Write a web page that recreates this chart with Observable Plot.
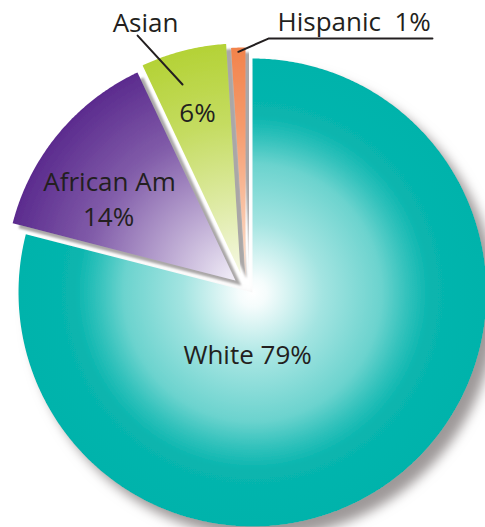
<!DOCTYPE html>
<html>
<head>
<meta charset="utf-8">
<script src="https://cdn.jsdelivr.net/npm/d3@7"></script>
<script src="https://cdn.jsdelivr.net/npm/@observablehq/plot@0.6"></script>
<style>
  html, body { margin: 0; padding: 0; background: #fff; }
  svg text { font-family: "Open Sans", sans-serif; }
</style>
</head>
<body>
<div id="chart"></div>
<script>
// ---- data ----
const categories = ["White", "African Am", "Asian", "Hispanic"];
const values = [79, 14, 6, 1];
const sliceLabels = ["White 79%", "African Am", "14%", "6%", "Asian", "Hispanic\u00a0 1%"];
const outerColors = ["#00b3ab", "#5b2b8e", "#b4d236", "#f2834b"];
const innerColors = ["#ffffff", "#f2eff8", "#f6f8e4", "#fde4d4"];

// ---- layout ----
const W = 485, H = 527;
const R = 234;            // pie radius in px
const CX = 252, CY = 292; // pie centre in px
// explode vectors (in radius units, y up) and relative radius per slice
const explode = [[0, 0], [-0.073, 0.051], [-0.051, 0.081], [-0.030, 0.064]];
const radii = [1, 0.983, 0.983, 0.983];

const arcs = d3.pie().sort(null).startAngle(0).endAngle(2 * Math.PI)(values);

function slicePoints(i) {
  const a = arcs[i];
  const [ox, oy] = explode[i];
  const r = radii[i];
  const pts = [{x: ox, y: oy}];
  const n = Math.max(2, Math.ceil((a.endAngle - a.startAngle) / (Math.PI / 360)));
  for (let k = 0; k <= n; k++) {
    const t = a.startAngle + (a.endAngle - a.startAngle) * k / n;
    pts.push({x: ox + r * Math.sin(t), y: oy + r * Math.cos(t)});
  }
  return pts;
}

// label anchors in radius units relative to the pie centre (y up)
const labelData = [
  {text: sliceLabels[0], x: -0.021, y: -0.272, anchor: "middle"},
  {text: sliceLabels[1], x: -0.611, y: 0.468, anchor: "middle"},
  {text: sliceLabels[2], x: -0.615, y: 0.318, anchor: "middle"},
  {text: sliceLabels[3], x: -0.235, y: 0.763, anchor: "middle"},
  {text: sliceLabels[4], x: -0.457, y: 1.147, anchor: "middle"},
  {text: sliceLabels[5], x: 0.107, y: 1.152, anchor: "start"}
];

// leader lines
const hispArc = arcs[3];
const hispMid = (hispArc.startAngle + hispArc.endAngle) / 2;
const hispStart = {x: explode[3][0] + 0.965 * Math.sin(hispMid), y: explode[3][1] + 0.965 * Math.cos(hispMid)};
const hispLeader = [hispStart, {x: 0.068, y: 1.085}, {x: 0.769, y: 1.085}];
const asianLeader = [{x: -0.491, y: 1.098}, {x: -0.299, y: 0.889}];

const marks = [];
categories.forEach((c, i) => {
  marks.push(Plot.line(slicePoints(i), {
    x: "x", y: "y", curve: "linear-closed",
    fill: `url(#grad${i})`, stroke: "none", ariaDescription: `slice${i}`
  }));
});
marks.push(Plot.line(hispLeader, {x: "x", y: "y", stroke: "#231f20", strokeWidth: 2}));
marks.push(Plot.line(asianLeader, {x: "x", y: "y", stroke: "#231f20", strokeWidth: 2}));
for (const anchor of ["middle", "start"]) {
  marks.push(Plot.text(labelData.filter(d => d.anchor === anchor), {
    x: "x", y: "y", text: "text", textAnchor: anchor, lineAnchor: "middle",
    fontSize: 26, fill: "#231f20", fontFamily: "Open Sans"
  }));
}

const plot = Plot.plot({
  width: W, height: H,
  marginTop: 0, marginRight: 0, marginBottom: 0, marginLeft: 0,
  x: {domain: [-CX / R, (W - CX) / R], axis: null},
  y: {domain: [-(H - CY) / R, CY / R], axis: null},
  style: {background: "#fff", overflow: "visible"},
  marks
});

const sx = plot.scale("x").apply, sy = plot.scale("y").apply;
const svg = d3.select(plot);
const defs = svg.insert("defs", ":first-child");
const stopsFor = (i) => {
  const o = outerColors[i], n = innerColors[i];
  const mix = (t) => d3.interpolateRgb(n, o)(t);
  if (i === 0) return [[0, n], [0.06, mix(0.04)], [0.3, mix(0.36)], [0.55, mix(0.58)], [0.66, mix(0.8)], [0.76, mix(0.97)], [1, o]];
  return [[0, n], [0.3, mix(0.35)], [0.65, mix(0.75)], [1, o]];
};
categories.forEach((c, i) => {
  const g = defs.append("radialGradient")
    .attr("id", `grad${i}`)
    .attr("gradientUnits", "userSpaceOnUse")
    .attr("cx", sx(explode[i][0])).attr("cy", sy(explode[i][1]))
    .attr("r", radii[i] * R);
  for (const [off, col] of stopsFor(i)) {
    g.append("stop").attr("offset", off).attr("stop-color", col);
  }
});
const fBig = defs.append("filter").attr("id", "shadowBig")
  .attr("x", "-20%").attr("y", "-20%").attr("width", "140%").attr("height", "140%");
fBig.append("feDropShadow").attr("dx", 10).attr("dy", 11).attr("stdDeviation", 6)
  .attr("flood-color", "#9e9999").attr("flood-opacity", 1);
const fSmall = defs.append("filter").attr("id", "shadowSmall")
  .attr("x", "-20%").attr("y", "-20%").attr("width", "140%").attr("height", "140%");
fSmall.append("feDropShadow").attr("dx", 6).attr("dy", 5).attr("stdDeviation", 1.2)
  .attr("flood-color", "#aaa7a7").attr("flood-opacity", 1);

categories.forEach((c, i) => {
  svg.select(`g[aria-description="slice${i}"]`).attr("filter", i === 0 ? "url(#shadowBig)" : "url(#shadowSmall)");
});

document.getElementById("chart").appendChild(plot);
</script>
</body>
</html>
